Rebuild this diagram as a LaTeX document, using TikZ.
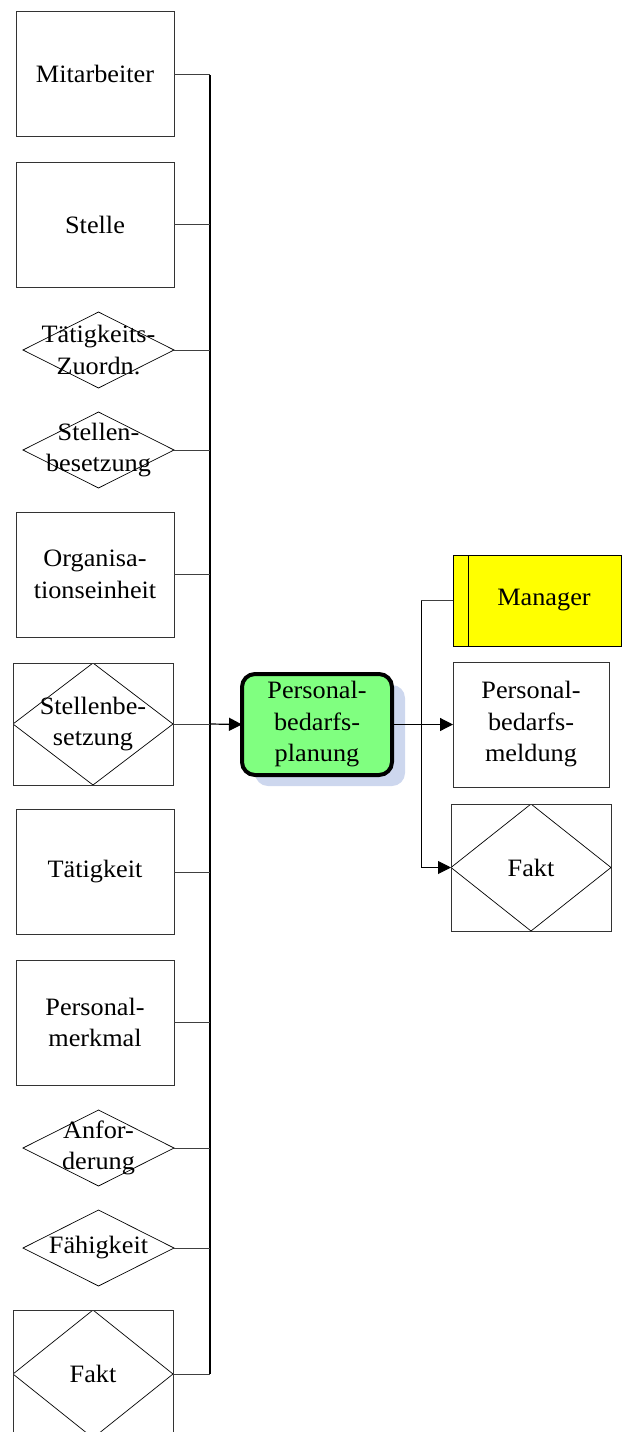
\documentclass[tikz,border=0pt]{standalone}
\usepackage{fontspec}
\setmainfont{Liberation Serif}[FakeStretch=1.05]
\usetikzlibrary{shapes.geometric,arrows.meta,shadows}
\definecolor{boxline}{gray}{0.2}
\definecolor{linkline}{gray}{0.25}
\definecolor{procgreen}{RGB}{128,255,128}
\definecolor{shade}{RGB}{205,215,238}
\definecolor{roleyellow}{RGB}{255,255,0}
\begin{document}
\begin{tikzpicture}[x=1pt,y=-1pt,
  every node/.style={font=\fontsize{25}{31.5}\selectfont, align=center, inner sep=0pt, outer sep=0pt},
  entity/.style={draw=boxline, line width=0.9pt, minimum width=158pt, minimum height=125pt},
  relship/.style={shape=diamond, draw=black, line width=0.7pt, minimum width=151pt, minimum height=76pt},
  boxdiamond/.style={draw=boxline, line width=0.9pt, minimum width=160pt,
    path picture={\draw[black, line width=0.7pt]
      (path picture bounding box.west) -- (path picture bounding box.north) --
      (path picture bounding box.east) -- (path picture bounding box.south) -- cycle;}},
  process/.style={draw=black, line width=4pt, rounded corners=13pt, fill=procgreen,
    minimum width=150pt, minimum height=101pt,
    general shadow={fill=shade, rounded corners=13pt, shadow xshift=13pt, shadow yshift=-11pt}},
  role/.style={draw=black, line width=0.9pt, fill=roleyellow, minimum width=168pt, minimum height=91pt,
    path picture={\draw[black, line width=0.9pt]
      ([xshift=15pt]path picture bounding box.north west) --
      ([xshift=15pt]path picture bounding box.south west);}},
  link/.style={draw=linkline, line width=0.9pt},
  bus/.style={draw=black, line width=1.4pt},
  arr/.style={draw=black, line width=1.2pt, -{Triangle[length=13pt,width=13pt]}}
]
\useasboundingbox (0,0) rectangle (622,1432);

% input objects on the left
\node[entity] (mit) at (95,74) {Mitarbeiter};
\node[entity] (stelle) at (95,224.5) {Stelle};
\node[relship] (tzu) at (98.5,350) {};
\node at (tzu.center) {Tätigkeits-\\Zuordn.};
\node[relship] (sbes) at (98.5,450) {};
\node at (sbes.center) {Stellen-\\besetzung};
\node[entity] (org) at (95,574.5) {Organisa-\\tionseinheit};
\node[boxdiamond, minimum height=122pt] (sbes2) at (93,724) {Stellenbe-\\setzung};
\node[entity] (taet) at (95,872) {Tätigkeit};
\node[entity] (pmerk) at (95,1022.5) {Personal-\\merkmal};
\node[relship] (anf) at (98.5,1148) {};
\node at (anf.center) {Anfor-\\derung};
\node[relship] (faeh) at (98.5,1248) {};
\node at (faeh.center) {Fähigkeit};
\node[boxdiamond, minimum height=128pt] (fakt) at (93,1374) {Fakt};

% process
\node[process] (proc) at (317,724.5) {Personal-\\bedarfs-\\planung};

% objects on the right
\node[role] (man) at (537,600.5) {\hspace*{14pt}Manager};
\node[entity, minimum width=156pt] (pbm) at (531,724.5) {Personal-\\bedarfs-\\meldung};
\node[boxdiamond, minimum height=127pt] (faktr) at (531,867.5) {Fakt};

% collecting line on the left
\coordinate (bustop) at (210,75);
\coordinate (busbot) at (210,1374);
\draw[bus] (bustop) -- (busbot);
\foreach \n in {mit,stelle,tzu,sbes,org,taet,pmerk,anf,faeh,fakt}
  \draw[link] (\n.east) -- (\n.east -| bustop);
\draw[link] (sbes2.east) -- (sbes2.east -| bustop);
\draw[arr] (sbes2.east -| bustop) -- (proc.west);

% distribution on the right
\coordinate (rbus) at (421,600);
\draw[arr] (proc.east) -- (pbm.west);
\draw[link] (man.west) -- (man.west -| rbus);
\draw[arr, line width=0.9pt] (man.west -| rbus) |- (faktr.west);
\end{tikzpicture}
\end{document}
